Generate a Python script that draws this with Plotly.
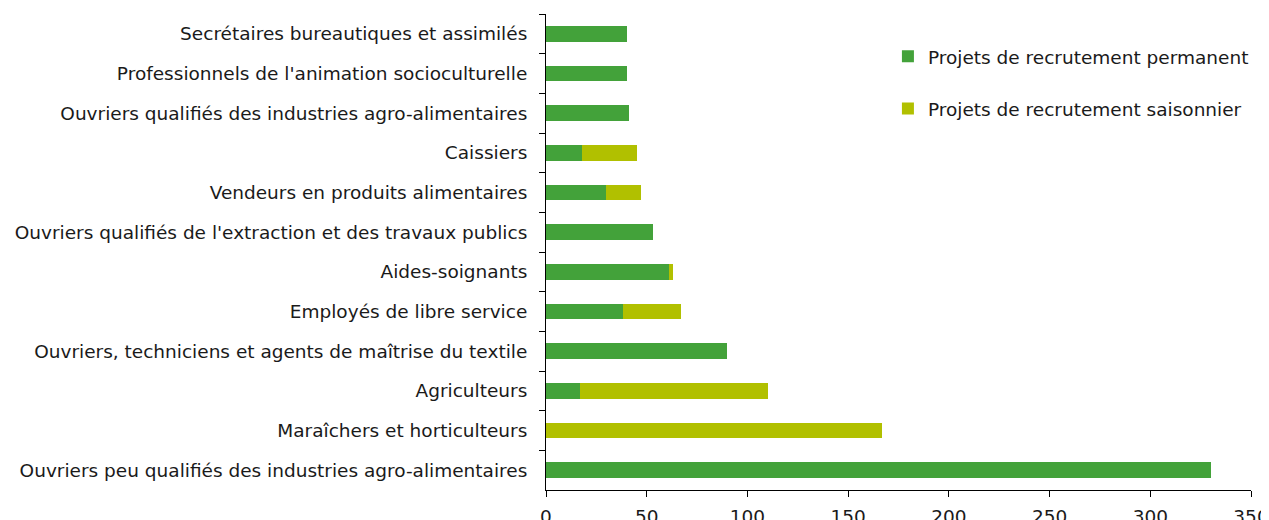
import plotly.graph_objects as go

categories = [
    "Secrétaires bureautiques et assimilés",
    "Professionnels de l'animation socioculturelle",
    "Ouvriers qualifiés des industries agro-alimentaires",
    "Caissiers",
    "Vendeurs en produits alimentaires",
    "Ouvriers qualifiés de l'extraction et des travaux publics",
    "Aides-soignants",
    "Employés de libre service",
    "Ouvriers, techniciens et agents de maîtrise du textile",
    "Agriculteurs",
    "Maraîchers et horticulteurs",
    "Ouvriers peu qualifiés des industries agro-alimentaires",
]
permanent = [40, 40, 41, 18, 30, 53, 61, 38, 90, 17, 0, 330]
saisonnier = [0, 0, 0, 27, 17, 0, 2, 29, 0, 93, 167, 0]
x_ticks = [0, 50, 100, 150, 200, 250, 300, 350]

font_family = "Verdana, DejaVu Sans, sans-serif"
fs = 18.5

fig = go.Figure()
fig.add_trace(go.Bar(
    y=categories, x=permanent, orientation="h",
    name="Projets de recrutement permanent",
    marker=dict(color="#43A23A", line=dict(width=0)),
    legendgroup="a",
))
fig.add_trace(go.Bar(
    y=categories, x=saisonnier, orientation="h",
    name="Projets de recrutement saisonnier",
    marker=dict(color="#B1C000", line=dict(width=0)),
    legendgroup="b",
))

fig.update_layout(
    barmode="stack",
    bargap=0.6,
    width=1261, height=512,
    margin=dict(l=538, r=18, t=6, b=30, autoexpand=False),
    plot_bgcolor="white", paper_bgcolor="white",
    font=dict(family=font_family, size=fs, color="#1a1a1a"),
    legend=dict(
        x=0.485, y=0.95, xanchor="left", yanchor="top",
        traceorder="grouped", tracegroupgap=25,
        font=dict(size=fs, family=font_family),
        itemwidth=30,
        bgcolor="rgba(0,0,0,0)",
    ),
    xaxis=dict(
        range=[0, 350], tickvals=x_ticks,
        showline=True, linecolor="black", linewidth=1,
        ticks="outside", ticklen=6, tickcolor="black",
        showgrid=False, zeroline=False,
        tickfont=dict(size=fs),
        automargin=False,
        ticklabelstandoff=4,
    ),
    yaxis=dict(
        autorange="reversed",
        showline=True, linecolor="black", linewidth=1,
        ticks="outside", ticklen=6, tickcolor="black",
        tickson="boundaries",
        showgrid=False,
        tickfont=dict(size=fs),
        automargin=False,
        ticklabelstandoff=14,
    ),
)

fig.write_html("out.html")
